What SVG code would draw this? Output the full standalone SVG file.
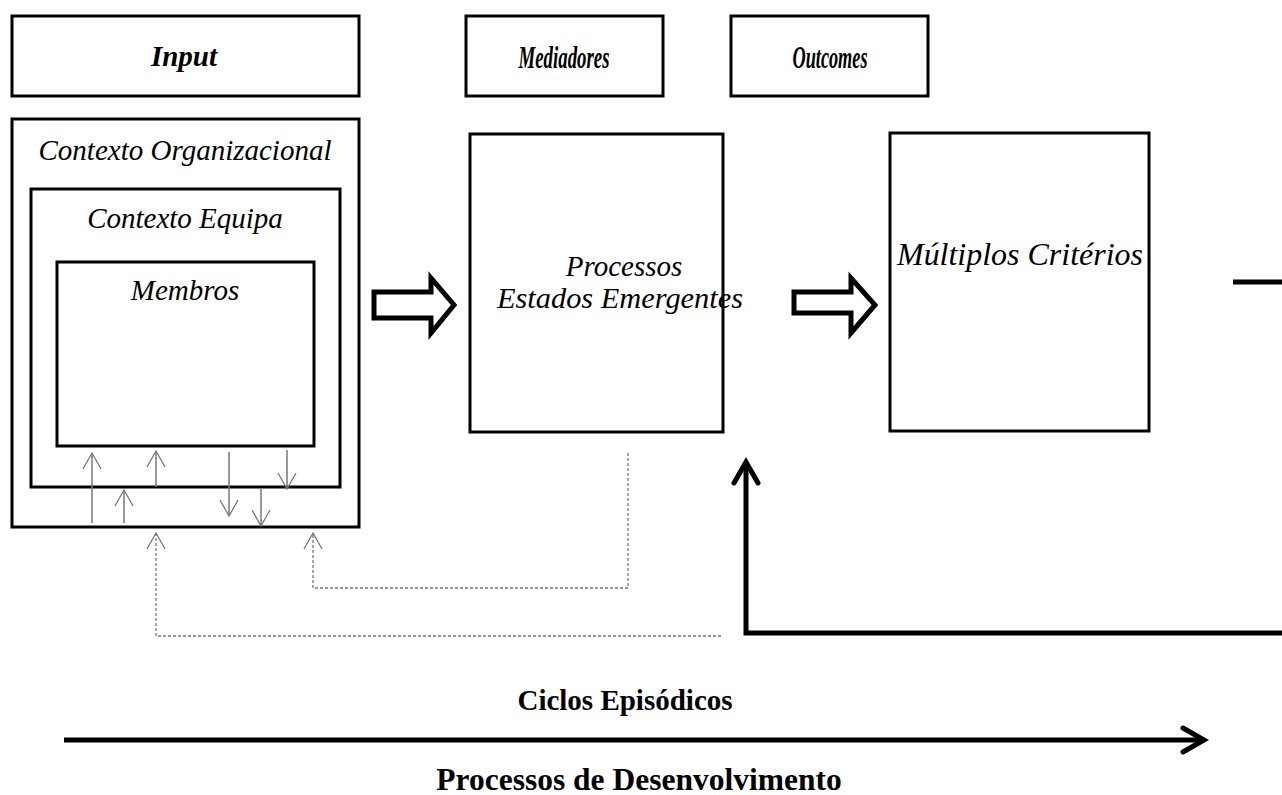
<svg xmlns="http://www.w3.org/2000/svg" width="1282" height="795" viewBox="0 0 1282 795">
<style>
.box{fill:#fff;stroke:#000;stroke-width:3}
.hd{font-weight:bold;font-style:italic;font-size:29px;text-anchor:middle}
.it{font-style:italic;font-size:29px;text-anchor:middle}
.bd{font-weight:bold;font-size:29px;text-anchor:middle}
.thin{stroke:#777;stroke-width:1.5;fill:none}
.dot{stroke:#777;stroke-width:1.3;fill:none;stroke-dasharray:3 2}
.hollow{fill:#fff;stroke:#000;stroke-width:5}
.thick{stroke:#000;stroke-width:5;fill:none}
</style>
<defs>
<marker id="open" markerWidth="24" markerHeight="20" refX="20" refY="10" orient="auto" markerUnits="userSpaceOnUse">
<path d="M4,1 L20,10 L4,19" fill="none" stroke="#777" stroke-width="1.3"/>
</marker>
</defs>
<g id="hdr-input"><rect class="box" x="12" y="16" width="347" height="80"/><text class="hd" font-family="Liberation Serif, serif" x="184" y="66">Input</text></g>
<g id="hdr-mediadores"><rect class="box" x="466" y="16" width="197" height="80"/><text class="hd" font-family="Liberation Serif, serif" style="font-size:32px" x="564" y="68" textLength="91" lengthAdjust="spacingAndGlyphs">Mediadores</text></g>
<g id="hdr-outcomes"><rect class="box" x="731" y="16" width="197" height="80"/><text class="hd" font-family="Liberation Serif, serif" style="font-size:32px" x="830" y="68" textLength="75" lengthAdjust="spacingAndGlyphs">Outcomes</text></g>
<g id="contexto-org"><rect class="box" x="12" y="119" width="347" height="408"/><text class="it" font-family="Liberation Serif, serif" x="185" y="160">Contexto Organizacional</text></g>
<g id="contexto-equipa"><rect class="box" x="31" y="189" width="309" height="298"/><text class="it" font-family="Liberation Serif, serif" x="185" y="228">Contexto Equipa</text></g>
<g id="membros"><rect class="box" x="57" y="262" width="257" height="184"/><text class="it" font-family="Liberation Serif, serif" x="185" y="300">Membros</text></g>
<g id="processos"><rect class="box" x="470" y="134" width="253" height="298"/><text class="it" font-family="Liberation Serif, serif" x="624" y="276">Processos</text><text class="it" font-family="Liberation Serif, serif" x="620" y="308" textLength="246" lengthAdjust="spacingAndGlyphs">Estados Emergentes</text></g>
<g id="criterios"><rect class="box" x="890" y="133" width="259" height="298"/><text class="it" font-family="Liberation Serif, serif" style="font-size:31px" x="1020" y="265" textLength="246" lengthAdjust="spacingAndGlyphs">Múltiplos Critérios</text></g>
<g id="connectors">
<path class="hollow" d="M374,292 L431,292 L431,278 L454,305 L431,333 L431,318 L374,318 Z"/>
<path class="hollow" d="M794,292 L851,292 L851,278 L875,305 L851,333 L851,313 L794,313 Z"/>
<line class="thin" x1="92" y1="523" x2="92" y2="453" marker-end="url(#open)"/>
<line class="thin" x1="124" y1="523" x2="124" y2="490" marker-end="url(#open)"/>
<line class="thin" x1="156" y1="487" x2="156" y2="451" marker-end="url(#open)"/>
<line class="thin" x1="229" y1="452" x2="229" y2="516" marker-end="url(#open)"/>
<line class="thin" x1="261" y1="489" x2="261" y2="526" marker-end="url(#open)"/>
<line class="thin" x1="287" y1="450" x2="287" y2="489" marker-end="url(#open)"/>
<path class="dot" d="M721,636 L156,636 L156,533" marker-end="url(#open)"/>
<path class="dot" d="M628,453 L628,588 L313,588 L313,533" marker-end="url(#open)"/>
<path class="thick" d="M1282,633 L746,633 L746,462"/>
<path class="thick" d="M734,483 L746,462 L758,483" stroke-linecap="round"/>
<line class="thick" x1="1233" y1="282" x2="1282" y2="282"/>
<line class="thick" x1="64" y1="740" x2="1203" y2="740"/>
<path class="thick" d="M1183,728 L1204,740 L1183,752" stroke-linecap="round"/>
</g>
<g id="labels">
<text class="bd" font-family="Liberation Serif, serif" x="625" y="710">Ciclos Episódicos</text>
<text class="bd" font-family="Liberation Serif, serif" style="font-size:31.5px" x="639" y="790">Processos de Desenvolvimento</text>
</g>
</svg>
